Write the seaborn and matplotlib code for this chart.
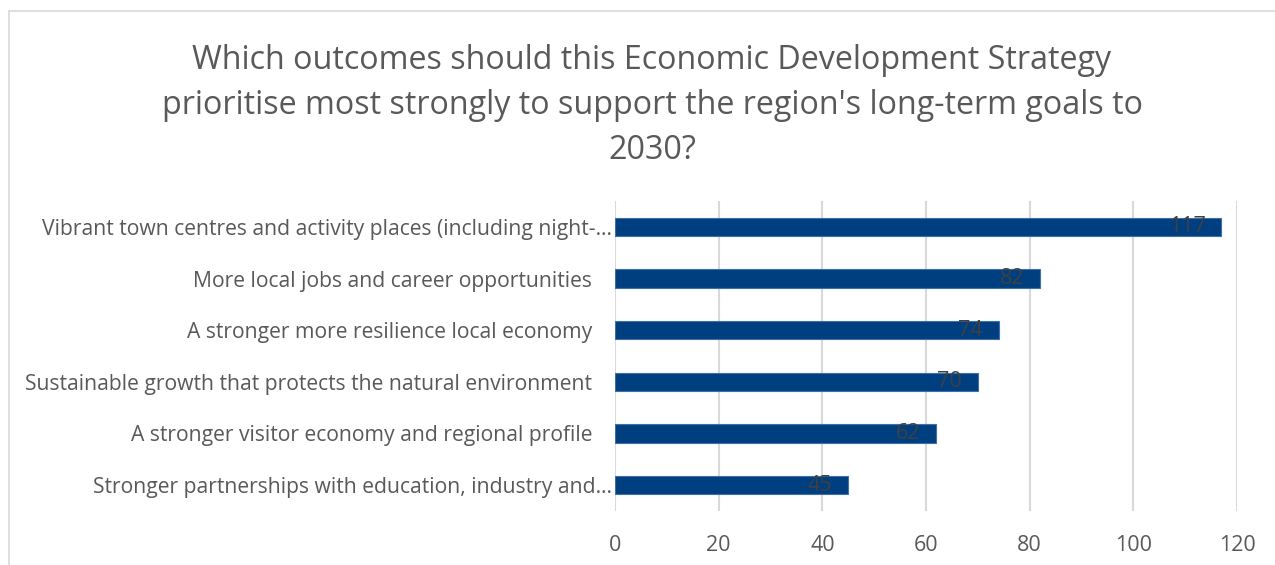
import matplotlib
matplotlib.use("Agg")
import matplotlib.pyplot as plt
import matplotlib.transforms as mtransforms
import seaborn as sns
import pandas as pd

# Survey results: number of respondents choosing each outcome
outcomes = [
    "Vibrant town centres and activity places (including night-\u2026",
    "More local jobs and career opportunities",
    "A stronger more resilience local economy",
    "Sustainable growth that protects the natural environment",
    "A stronger visitor economy and regional profile",
    "Stronger partnerships with education, industry and\u2026",
]
responses = [117, 82, 74, 70, 62, 45]
x_ticks = [0, 20, 40, 60, 80, 100, 120]

title = ("Which outcomes should this Economic Development Strategy\n"
         "prioritise most strongly to support the region's long-term goals to\n"
         "2030?")

sns.set_theme(style="white")
plt.rcParams["font.family"] = ["Open Sans", "DejaVu Sans"]

df = pd.DataFrame({"outcome": outcomes, "responses": responses})

fig = plt.figure(figsize=(12.75, 5.65), dpi=100)
ax = fig.add_axes([615 / 1275, 1 - 511 / 565, (1237 - 615) / 1275, (511 - 201) / 565])

sns.barplot(data=df, x="responses", y="outcome", orient="h", color="#003F7F",
            width=0.35, edgecolor="#3F6FA8", linewidth=0.8, saturation=1, ax=ax)

ax.set_xlim(0, 120)
ax.set_xticks(x_ticks)
ax.set_xticklabels([str(t) for t in x_ticks])
ax.grid(axis="x", color="#D9D9D9", linewidth=1.5)
ax.grid(axis="y", visible=False)
ax.set_axisbelow(True)
for s in ax.spines.values():
    s.set_visible(False)
ax.set_xlabel("")
ax.set_ylabel("")
ax.tick_params(axis="y", length=0, pad=2, labelsize=15.25, labelcolor="#595959")
ax.tick_params(axis="x", length=0, pad=17, labelsize=15.5, labelcolor="#595959")

# Full-length category names sit a little further from the axis than truncated ones
shift = mtransforms.ScaledTranslation(-20 / 100, 0, fig.dpi_scale_trans)
for lbl in ax.get_yticklabels():
    if not lbl.get_text().endswith("\u2026"):
        lbl.set_transform(lbl.get_transform() + shift)

# Value labels just inside the end of each bar
for container in ax.containers:
    texts = ax.bar_label(container, labels=[str(v) for v in responses], padding=-11.5,
                         fontsize=15.5, color="#404040")
    for t in texts:
        t.set_ha("right")

fig.text(652 / 1275, 1 - 105 / 565, title, ha="center", va="center",
         fontsize=23.2, color="#595959", linespacing=1.48)

# Chart border
fig.add_artist(plt.Line2D([9 / 1275, 9 / 1275], [0, 1 - 11 / 565],
                          transform=fig.transFigure, color="#D9D9D9", linewidth=1.2))
fig.add_artist(plt.Line2D([9 / 1275, 1], [1 - 11 / 565, 1 - 11 / 565],
                          transform=fig.transFigure, color="#D9D9D9", linewidth=1.2))

fig.savefig("out.png", dpi=100, facecolor="white")
